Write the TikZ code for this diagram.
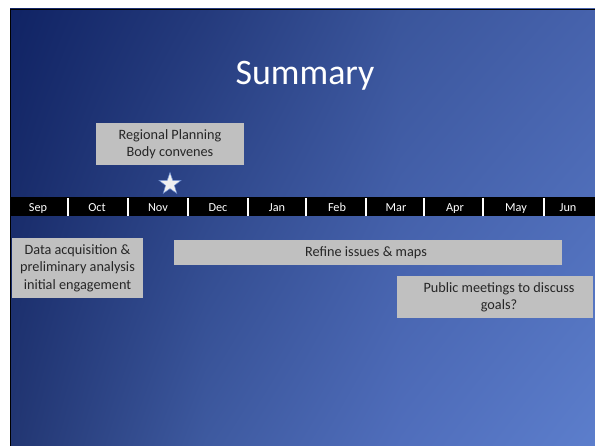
\documentclass[tikz,border=0pt]{standalone}
\usepackage{fontspec}
\setmainfont{Carlito}
\usetikzlibrary{shapes.geometric,shadings}
\definecolor{ta}{RGB}{16,35,100}
\definecolor{tb}{RGB}{36,58,124}
\definecolor{tc}{RGB}{58,85,155}
\definecolor{td}{RGB}{70,98,172}
\definecolor{ba}{RGB}{34,54,114}
\definecolor{bb}{RGB}{62,90,160}
\definecolor{bc}{RGB}{80,110,188}
\definecolor{bd}{RGB}{92,126,204}
\definecolor{boxgray}{HTML}{C0C0C0}
\definecolor{txt}{HTML}{262626}
\tikzset{
  boxfont/.style={font=\fontsize{14.3}{17.5}\selectfont},
  graybox/.style={fill=boxgray, draw=none, text=txt, boxfont, align=center, inner sep=0pt},
  month/.style={text=white, font=\fontsize{12.3}{14}\selectfont, inner sep=0pt},
  sep/.style={draw=white, line width=2.2bp}
}
\begin{document}
\begin{tikzpicture}[x=1bp,y=-1bp]
\useasboundingbox (0,0) rectangle (595,446);
\fill[white] (0,0) rectangle (595,446);
\shade[upper left=ta, upper right=tb, lower left=ba, lower right=bb] (10,9) rectangle (205.2,446);
\shade[upper left=tb, upper right=tc, lower left=bb, lower right=bc] (205,9) rectangle (400.2,446);
\shade[upper left=tc, upper right=td, lower left=bc, lower right=bd] (400,9) rectangle (595,446);
\draw[black, line width=1.2bp] (10.5,446) -- (10.5,9.5) -- (595,9.5);
% title
\node[text=white, font=\fontsize{36}{40}\selectfont, anchor=base] (title) at (305,85) {Summary};
% timeline bar
\fill[black] (11,197) rectangle (595,216.5);
\foreach \x in {68,128,188,248,306,366,424,483,544}{
  \draw[sep] (\x,198) -- (\x,216.5);
}
\foreach \m/\x in {Sep/38,Oct/97,Nov/158,Dec/218,Jan/277,Feb/337,Mar/396,Apr/455,May/516,Jun/568}{
  \node[month, anchor=base] (m\m) at (\x,212) {\m};
}
% regional planning
\node[graybox, minimum width=148bp, minimum height=42bp] (rpb) at (170,144) {Regional Planning\\Body convenes};
\node[star, star points=5, star point ratio=2.5, minimum size=23bp, inner sep=0pt, fill=white!94!black, draw=cyan!40!blue!60, line width=0.5bp] (star) at (170,184) {};
% data acquisition
\node[graybox, minimum width=131bp, minimum height=60bp] (data) at (77.5,268) {Data acquisition \&\\preliminary analysis\\initial engagement};
% refine
\node[graybox, minimum width=388bp, minimum height=25bp] (refine) at (368,252.5) {};
\node[text=txt, boxfont, anchor=west, inner sep=0pt] (refinetext) at (305,253) {Refine issues \& maps};
% public meetings
\node[graybox, minimum width=196bp, minimum height=42bp] (pub) at (495,297) {};
\node[text=txt, boxfont, align=center, inner sep=0pt] (pubtext) at (499,297) {Public meetings to discuss\\goals?};
\end{tikzpicture}
\end{document}
